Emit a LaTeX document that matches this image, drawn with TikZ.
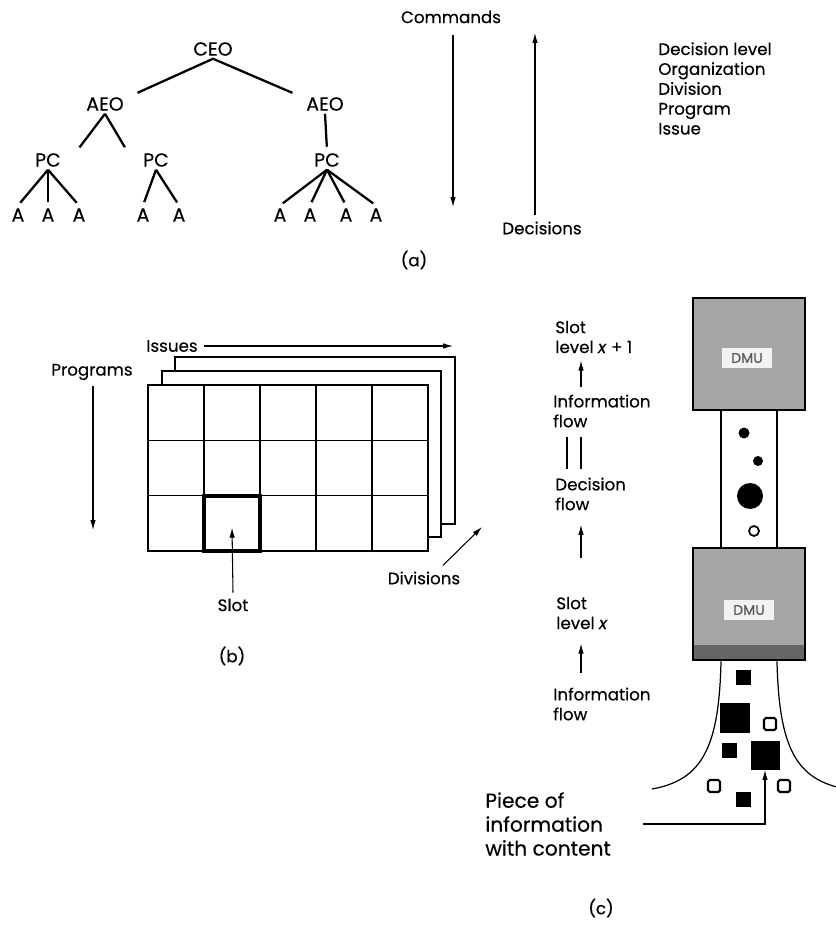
\documentclass[tikz,border=0pt]{standalone}
\usepackage{fontspec}
\setmainfont{Poppins}[FakeBold=0.35]
\usepackage{tikz}
\usetikzlibrary{arrows.meta, positioning, calc}

\begin{document}
\begin{tikzpicture}[
  x=0.02cm, y=-0.02cm,
  font=\fontsize{9.5}{11.3}\selectfont,
  org/.style      = {inner sep=1.5pt, minimum width=1.16cm, font=\fontsize{10.8}{12}\selectfont},
  leaf/.style     = {inner sep=1.5pt, font=\fontsize{10.8}{12}\selectfont},
  txt/.style      = {inner sep=0pt, anchor=west, align=left},
  branch/.style   = {line width=1.3pt, shorten >=2pt},
  arr/.style      = {-{Latex[length=2mm, width=1.1mm]}, line width=0.6pt},
  sheet/.style    = {draw, line width=0.6pt, fill=white},
  gridline/.style = {line width=0.6pt},
  dmu/.style      = {draw, line width=1.6pt, fill=black!35,
                     minimum width=2.24cm, minimum height=2.24cm},
  dmutag/.style   = {fill=black!5, text=black!65, inner xsep=5pt, inner ysep=3pt,
                     font=\fontsize{8}{9}\selectfont},
  dot/.style      = {circle, fill=black, inner sep=0pt},
  bit/.style      = {rectangle, fill=black, inner sep=0pt},
  hole/.style     = {rectangle, draw, line width=1.2pt, fill=white,
                     rounded corners=1pt, inner sep=0pt, minimum size=0.24cm}
]
\useasboundingbox (0,0) rectangle (835,932);

% ── (a) hierarchy ────────────────────────────────────────────────────────────
\node[leaf] (ceo)  at (213,49)  {CEO};
\node[org]  (aeoL) at (105,104) {AEO};
\node[org]  (aeoR) at (325,104) {AEO};
\node[org]  (pcL)  at (48,160)  {PC};
\node[org]  (pcM)  at (156,160) {PC};
\node[org]  (pcR)  at (327,160) {PC};
\foreach \n/\x in {1/18,2/48,3/79,4/143,5/179,6/280,7/310,8/346,9/376}
  \node[leaf] (a\n) at (\x,215) {A};

\draw[branch] (ceo.south)  -- (aeoL.north east);
\draw[branch] (ceo.south)  -- (aeoR.north west);
\draw[branch] (aeoL.south) -- (pcL.north east);
\draw[branch] (aeoL.south) -- (pcM.north west);
\draw[branch] (aeoR.south) -- (pcR.north);
\foreach \n in {1,2,3} \draw[branch] (pcL.south) -- (a\n.north);
\foreach \n in {4,5}   \draw[branch] (pcM.south) -- (a\n.north);
\foreach \n in {6,...,9} \draw[branch] (pcR.south) -- (a\n.north);

% ── Commands / Decisions ─────────────────────────────────────────────────────
\node (cmd) at (451,17)  {Commands};
\node (dcs) at (542,228) {Decisions};
\coordinate (cmdEnd) at (453,207);
\coordinate (dcsEnd) at (535,33);
\draw[arr, shorten <=3pt] (cmd.south -| cmdEnd) -- (cmdEnd);
\draw[arr] (dcs.north -| dcsEnd) -- (dcsEnd);

\node[txt, anchor=north west] (levels) at (658,42)
     {Decision level\\Organization\\Division\\Program\\Issue};

\node (capA) at (414,260) {(a)};

% ── (b) slot matrix ──────────────────────────────────────────────────────────
\draw[sheet] (175,357) rectangle (455,524);
\draw[sheet] (162,371) rectangle (441,537);
\draw[sheet] (148,385) rectangle (428,551);
\foreach \i in {1,...,4} \draw[gridline] (148+56*\i,385) -- (148+56*\i,551);
\foreach \j in {1,2}     \draw[gridline] (148,385+55.33*\j) -- (428,385+55.33*\j);
\node[draw, line width=2.2pt, minimum width=1.12cm, minimum height=1.1cm,
      inner sep=0pt] (cell) at (232,523.7) {};

\node (issues) at (172,346) {Issues};
\coordinate (issuesEnd) at (453,344);
\draw[arr] (issues.east) -- (issues.east -| issuesEnd);

\node (prog) at (92,372) {Programs};
\coordinate (progEnd) at (93,530);
\draw[arr] (prog.south -| progEnd) -- (progEnd);

\node (divs) at (424,578) {Divisions};
\coordinate (divsEnd) at (482,527);
\draw[arr] ([xshift=0.38cm]divs.north) -- (divsEnd);

\node (slot) at (233,605) {Slot};
\draw[arr] (slot.north) -- ([yshift=-0.08cm]cell.center);

\node (capB) at (232,656) {(b)};

% ── (c) decision making units ────────────────────────────────────────────────
\node[dmu] (dmuHi) at (749,354) {};
\node[dmu, path picture={\fill[black!60] (path picture bounding box.south west)
      rectangle ([yshift=0.3cm]path picture bounding box.south east);}]
     (dmuLo) at (749,604) {};
\node[dmutag] (tagHi) at (747,358) {DMU};
\node[dmutag] (tagLo) at (749,610) {DMU};

\draw[line width=0.7pt] ([xshift=-0.56cm]dmuHi.south) -- ([xshift=-0.56cm]dmuLo.north);
\draw[line width=0.7pt] ([xshift=0.56cm]dmuHi.south)  -- ([xshift=0.56cm]dmuLo.north);

\node[dot, minimum size=0.22cm] (d1) at (744,433) {};
\node[dot, minimum size=0.2cm]  (d2) at (758,461) {};
\node[dot, minimum size=0.52cm] (d3) at (750,496) {};
\node[circle, draw, line width=1pt, fill=white, inner sep=0pt,
      minimum size=0.2cm] (d4) at (754,531) {};

% funnel
\draw[line width=0.7pt] ([xshift=-0.56cm]dmuLo.south)
     .. controls (719,748) and (702,780) .. (652,789);
\draw[line width=0.7pt] ([xshift=0.56cm]dmuLo.south)
     .. controls (779,748) and (796,780) .. (846,789);

\node[bit, minimum size=0.3cm]  (s1) at (743,677) {};
\node[bit, minimum size=0.6cm]  (s2) at (735,718) {};
\node[hole]                     (s3) at (770,724) {};
\node[bit, minimum size=0.3cm]  (s4) at (729,750) {};
\node[bit, minimum size=0.58cm] (s5) at (765,755) {};
\node[hole]                     (s6) at (714,786) {};
\node[hole]                     (s7) at (784,786) {};
\node[bit, minimum size=0.3cm]  (s8) at (743,799) {};

% labels beside the units
\coordinate (flowx) at (581,0);
\node[txt] (slotHi) at (555,337) {Slot\\level \textit{x} + 1};
\node[txt] (infoHi) at (553,411) {Information\\flow};
\node[txt] (decHi)  at (555,494) {Decision\\flow};
\node[txt] (slotLo) at (556,613) {Slot\\level \textit{x}};
\node[txt] (infoLo) at (553,704) {Information\\flow};

\draw[arr, shorten <=4pt, shorten >=4pt] (infoHi.north -| flowx) -- (slotHi.south -| flowx);
\draw[line width=0.6pt, shorten <=5pt, shorten >=5pt]
     (infoHi.south -| 567,0) -- (decHi.north -| 567,0);
\draw[line width=0.6pt, shorten <=5pt, shorten >=5pt]
     (infoHi.south -| flowx) -- (decHi.north -| flowx);
\draw[arr, shorten <=22pt, shorten >=8pt] (slotLo.north -| flowx) -- (decHi.south -| flowx);
\draw[arr, shorten <=8pt, shorten >=8pt] (infoLo.north -| flowx) -- (slotLo.south -| flowx);

\node[txt, font=\fontsize{11.5}{13.6}\selectfont]
     (piece) at (485,824) {Piece of\\information\\with content};
\draw[arr] ([xshift=0.64cm]piece.east) -| (s5.south);

\node (capC) at (601,908) {(c)};
\end{tikzpicture}
\end{document}
